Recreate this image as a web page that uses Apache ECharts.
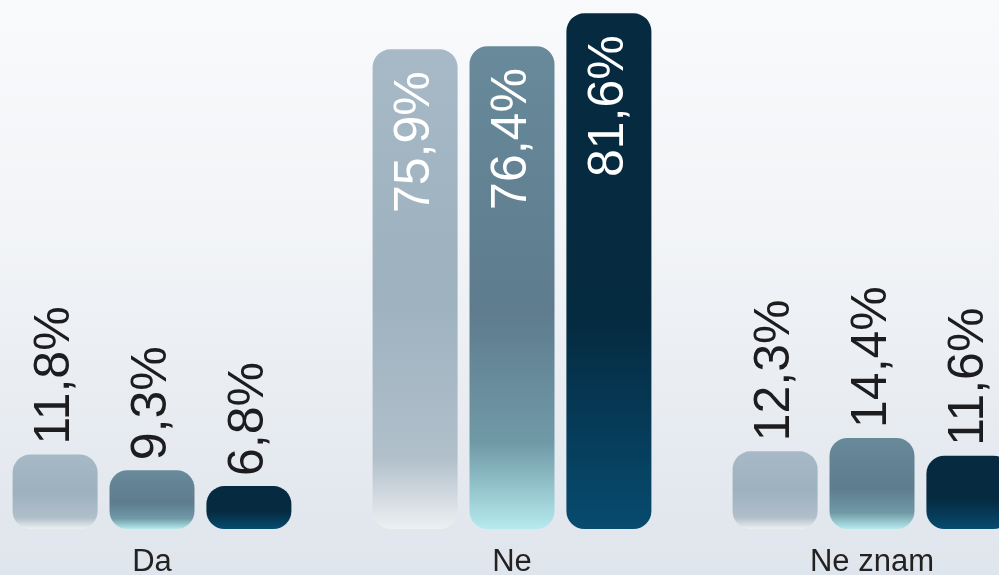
<!DOCTYPE html>
<html>
<head>
<meta charset="utf-8">
<script src="https://cdn.jsdelivr.net/npm/echarts@6/dist/echarts.min.js"></script>
<style>
html,body{margin:0;padding:0;width:999px;height:575px;overflow:hidden;
background:linear-gradient(to bottom,#f9fafc 0%,#f2f4f7 40%,#dfe5ec 100%);}
#c{position:absolute;left:-28px;top:0;width:1080px;height:575px;}
</style>
</head>
<body>
<div id="c"></div>
<script>
const categories = ['Da', 'Ne', 'Ne znam'];
const seriesNames = ['Serija 1', 'Serija 2', 'Serija 3'];
const series1 = [11.8, 75.9, 12.3];
const series2 = [9.3, 76.4, 14.4];
const series3 = [6.8, 81.6, 11.6];

const G = echarts.graphic.LinearGradient;
const fills = [
  new G(0,0,0,1,[{offset:0,color:'#a7b9c6'},{offset:0.5,color:'#9db1bf'},{offset:0.85,color:'#b0bfca'},{offset:1,color:'#edf0f2'}]),
  new G(0,0,0,1,[{offset:0,color:'#688a9a'},{offset:0.55,color:'#5e7c8e'},{offset:0.82,color:'#7099a6'},{offset:1,color:'#b5eaee'}]),
  new G(0,0,0,1,[{offset:0,color:'#062a40'},{offset:0.6,color:'#052b41'},{offset:1,color:'#074b6f'}])
];

function labelFor(v){
  if (v > 30) {
    return {show:true, position:'insideTop', rotate:90, align:'right', verticalAlign:'middle',
      distance:22, color:'#ffffff'};
  }
  return {show:true, position:'top', rotate:90, align:'left', verticalAlign:'middle',
    distance:10, color:'#1d1d1f'};
}

function mk(name, vals, i){
  return {
    name:name, type:'bar', barWidth:85, barGap:'14%',
    itemStyle:{color:fills[i], borderRadius:18},
    label:{fontFamily:'Liberation Sans Narrow, Liberation Sans, Arial', fontSize:50,
      formatter:p=>String(p.value).replace('.',',')+'%'},
    data: vals.map(v=>({value:v, label:labelFor(v)}))
  };
}

const chart = echarts.init(document.getElementById('c'));
chart.setOption({
  backgroundColor:'transparent',
  animation:false,
  grid:{left:0, right:0, top:0, bottom:46, containLabel:false, outerBoundsMode:'none'},
  xAxis:{type:'category', data:categories,
    axisLine:{show:false}, axisTick:{show:false},
    axisLabel:{fontFamily:'Liberation Sans, Arial', fontSize:31, color:'#222222', margin:18}},
  yAxis:{type:'value', min:0, max:83.7, show:false, splitLine:{show:false}},
  series:[mk(seriesNames[0],series1,0), mk(seriesNames[1],series2,1), mk(seriesNames[2],series3,2)]
});
</script>
</body>
</html>
